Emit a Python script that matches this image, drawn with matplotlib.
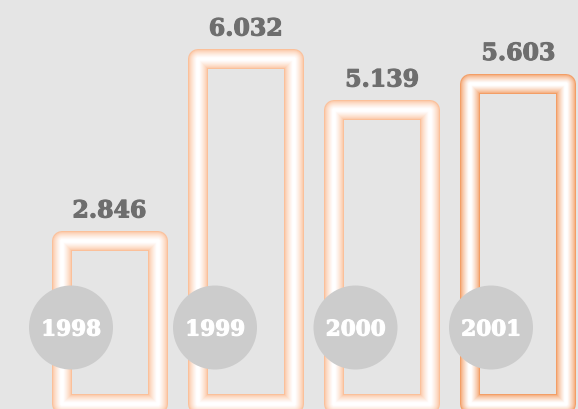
import numpy as np
import matplotlib
matplotlib.use("Agg")
import matplotlib.pyplot as plt
from matplotlib.patches import Rectangle
from matplotlib.colors import to_rgb
import matplotlib.patheffects as pe

# ---- data ----
years = ["1998", "1999", "2000", "2001"]
values = [2.846, 6.032, 5.139, 5.603]

# ---- style ----
bg = "#e5e5e5"
edge_colors = ["#fbc09a", "#fbc09a", "#fbc09a", "#f39e66"]
label_color = "#6e6e6e"
circle_color = "#cccccc"
W, H, DPI = 578, 410, 100
px_x = 1 / 136.3          # x data units per pixel
px_y = 1 / 57.12          # y data units per pixel
bar_w_px = 96
stroke_px = 20
circle_offsets_px = [-38.5, -30.8, -26.6, -27.4]
circle_y_val = 1.339

fig = plt.figure(figsize=(W / DPI, H / DPI), dpi=DPI, facecolor=bg)
ax = fig.add_axes([0, 0, 1, 1])
ax.set_facecolor(bg)
ax.set_xlim(-109.5 * px_x, (W - 109.5) * px_x)
ax.set_ylim(-5 * px_y, (H - 5) * px_y)
ax.axis("off")

x = np.arange(len(values))
bw = bar_w_px * px_x
n_layers = 10
for xi, v, ec in zip(x, values, edge_colors):
    c0 = np.array(to_rgb(ec))
    for k in range(n_layers):
        t = k / (n_layers - 1)
        lw_px = stroke_px * (1 - t) + 1.5 * t
        w = min(1.0, t ** 0.7 * 1.1)
        col = c0 * (1 - w) + np.ones(3) * w
        r = Rectangle((xi - bw / 2, 0), bw, v, fill=False,
                      edgecolor=col, linewidth=lw_px * 72 / DPI,
                      joinstyle="round", zorder=2 + k * 0.01)
        ax.add_patch(r)
    ax.annotate(f"{v:.3f}", (xi, v), xytext=(0, 31 * 72 / DPI),
                textcoords="offset points", ha="center", va="center",
                fontsize=17, fontweight="bold", family="DejaVu Serif",
                color=label_color, zorder=5,
                path_effects=[pe.withStroke(linewidth=0.8, foreground=label_color)])

cx = x + np.array(circle_offsets_px) * px_x
diam_pt = 84 * 72 / DPI
ax.scatter(cx, [circle_y_val] * len(cx), s=diam_pt ** 2, color=circle_color,
           edgecolors="none", zorder=4)
for cxi, yr in zip(cx, years):
    ax.annotate(yr, (cxi, circle_y_val), xytext=(0, -2 * 72 / DPI),
                textcoords="offset points", ha="center", va="center",
                fontsize=15.5, fontweight="bold", family="DejaVu Serif",
                color="white", zorder=5,
                path_effects=[pe.withStroke(linewidth=0.8, foreground="white")])

fig.savefig("out.png", dpi=DPI, facecolor=bg)
